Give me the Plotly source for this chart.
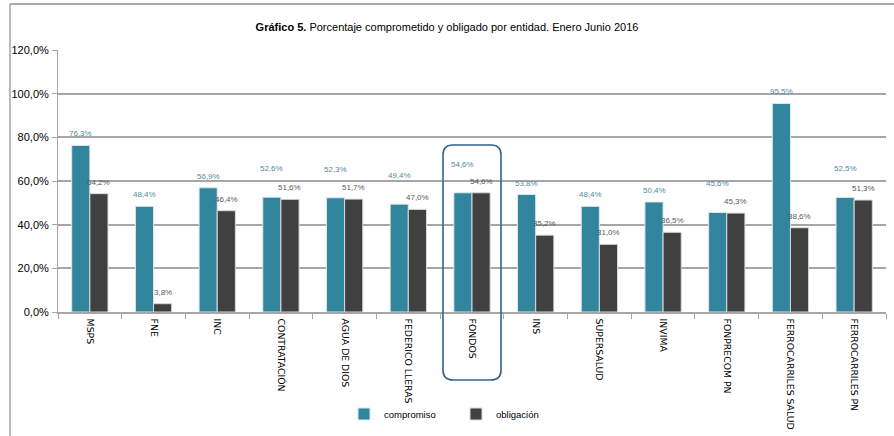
import plotly.graph_objects as go

entidades = ["MSPS", "FNE", "INC", "CONTRATACIÓN", "AGUA DE DIOS", "FEDERICO LLERAS",
             "FONDOS", "INS", "SUPERSALUD", "INVIMA", "FONPRECOM PN",
             "FERROCARRILES SALUD", "FERROCARRILES PN"]
compromiso = [76.3, 48.4, 56.9, 52.6, 52.3, 49.4, 54.6, 53.8, 48.4, 50.4, 45.6, 95.5, 52.5]
obligacion = [54.2, 3.8, 46.4, 51.6, 51.7, 47.0, 54.6, 35.2, 31.0, 36.5, 45.3, 38.6, 51.3]
y_ticks = [0, 20, 40, 60, 80, 100, 120]
y_tick_text = [f"{v:.1f}%".replace(".", ",") for v in y_ticks]
destacado = "FONDOS"

TEAL = "#31859C"
DARK = "#404040"
FONT = "Liberation Sans, Arial, sans-serif"

fig = go.Figure()
fig.add_trace(go.Bar(
    x=entidades, y=compromiso, name="compromiso",
    marker=dict(color=TEAL, line=dict(color="#DDE8EC", width=1)),
))
fig.add_trace(go.Bar(
    x=entidades, y=obligacion, name="obligación",
    marker=dict(color=DARK, line=dict(color="#D9D9D9", width=1)),
))

L, R, T, B = 58, 8, 50, 124
W, H = 894, 436
pw, ph = W - L - R, H - T - B
BARGAP = 0.43

def px_x(x):
    return (x - L) / pw

def px_y(y):
    return (H - B - y) / ph

n = len(entidades)
cat_w = pw / n
bar_w = cat_w * (1 - BARGAP) / 2

def fmt(v):
    return f"{v:.1f}%".replace(".", ",")

annotations = []
for name, c, o in zip(entidades, compromiso, obligacion):
    lift = 22 if abs(c - o) < 3 else 5
    annotations.append(dict(x=name, y=c, xref="x", yref="y", text=fmt(c), showarrow=False,
                            xanchor="center", yanchor="bottom", xshift=-bar_w / 2, yshift=lift,
                            font=dict(family=FONT, size=8, color="#4F8A9E")))
    annotations.append(dict(x=name, y=o, xref="x", yref="y", text=fmt(o), showarrow=False,
                            xanchor="center", yanchor="bottom", xshift=bar_w / 2, yshift=5,
                            font=dict(family=FONT, size=8, color="#595959")))

# rounded highlight box around the highlighted category
i = entidades.index(destacado)
cx = (i + 0.5) / n
hw = 29 / pw
x0, x1 = cx - hw, cx + hw
y0, y1 = px_y(380), px_y(145)
rx, ry = 10 / pw, 10 / ph
path = (f"M {x0+rx},{y1} L {x1-rx},{y1} Q {x1},{y1} {x1},{y1-ry} "
        f"L {x1},{y0+ry} Q {x1},{y0} {x1-rx},{y0} L {x0+rx},{y0} "
        f"Q {x0},{y0} {x0},{y0+ry} L {x0},{y1-ry} Q {x0},{y1} {x0+rx},{y1} Z")

shapes = [
    dict(type="path", xref="paper", yref="paper", path=path,
         line=dict(color="#365F91", width=1.6), fillcolor="rgba(0,0,0,0)", layer="above"),
    # outer frame lines
    dict(type="line", xref="paper", yref="paper", x0=px_x(10), x1=px_x(10),
         y0=px_y(436), y1=px_y(4), line=dict(color="#A6A6A6", width=1.5)),
    dict(type="line", xref="paper", yref="paper", x0=px_x(10), x1=px_x(894),
         y0=px_y(4), y1=px_y(4), line=dict(color="#8C8C8C", width=1.5)),
]

fig.update_layout(
    width=W, height=H,
    margin=dict(l=L, r=R, t=T, b=B),
    paper_bgcolor="white", plot_bgcolor="white",
    separators=",.",
    barmode="group", bargap=BARGAP, bargroupgap=0,
    title=dict(text="<b>Gráfico 5.</b> Porcentaje comprometido y obligado por entidad. Enero Junio 2016",
               x=0.5, xanchor="center", xref="container", y=1 - 27 / H, yanchor="middle", yref="container",
               font=dict(family=FONT, size=11, color="#000000")),
    font=dict(family=FONT, color="#000000"),
    xaxis=dict(type="category", tickangle=90, showgrid=False, automargin=False,
               showline=True, linecolor="#A6A6A6", linewidth=1.5,
               ticks="outside", tickson="boundaries", ticklen=5, tickcolor="#A6A6A6",
               ticklabelstandoff=3,
               tickfont=dict(family="DejaVu Sans, sans-serif", size=9.3, color="#000000")),
    yaxis=dict(range=[0, 120], tickmode="array", tickvals=y_ticks, ticktext=y_tick_text,
               showgrid=True, gridcolor="#A6A6A6", gridwidth=1.5, automargin=False,
               showline=True, linecolor="#A6A6A6", linewidth=1,
               ticks="outside", ticklen=5, tickcolor="#A6A6A6", zeroline=False,
               ticklabelstandoff=1,
               tickfont=dict(family=FONT, size=11, color="#000000")),
    legend=dict(orientation="h", x=px_x(344), xanchor="left", y=px_y(414), yanchor="middle",
                font=dict(family=FONT, size=9.5, color="#000000"),
                bgcolor="rgba(0,0,0,0)",
                entrywidth=67, entrywidthmode="pixels",
                traceorder="normal"),
    annotations=annotations,
    shapes=shapes,
    showlegend=True,
)

fig.write_html("out.html", config={"displayModeBar": False},
               post_script="document.body.style.margin='0';document.body.style.overflow='hidden';")
